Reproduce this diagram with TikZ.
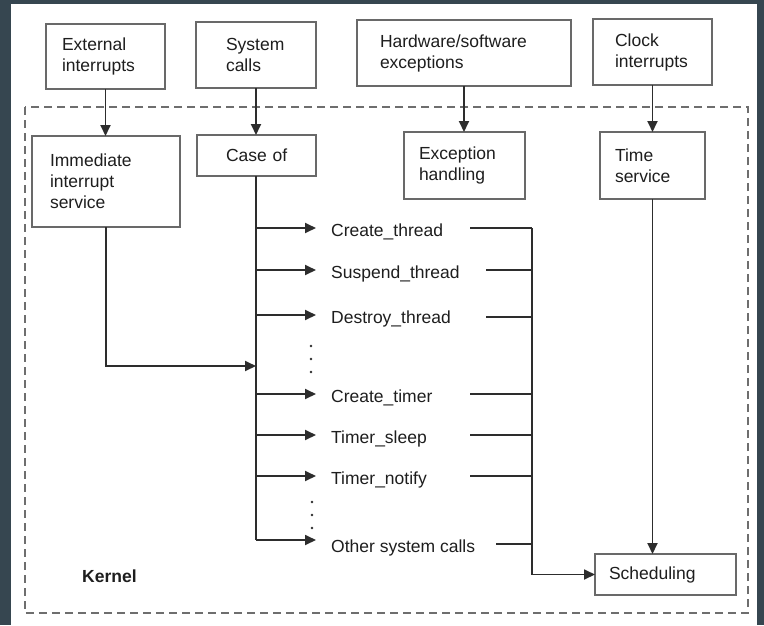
\documentclass[tikz,border=0pt]{standalone}
\usepackage{fontspec}
\setmainfont{Liberation Sans}
\usetikzlibrary{arrows.meta}
\definecolor{bgdark}{RGB}{54,70,80}
\definecolor{boxline}{RGB}{105,105,105}
\definecolor{arrline}{RGB}{45,45,45}
\definecolor{txt}{RGB}{30,30,30}
\definecolor{dashline}{RGB}{110,110,110}
\begin{document}
\begin{tikzpicture}[x=1pt,y=-1pt,
  font=\fontsize{17.5}{21}\selectfont, text=txt,
  box/.style={draw=boxline, line width=1.6pt, align=left, inner ysep=0pt, outer sep=0pt},
  lab/.style={anchor=base west, inner xsep=15pt, inner ysep=0pt, text height=16pt, text depth=0pt},
  arr/.style={draw=arrline, line width=1.8pt, -{Triangle[length=11pt,width=10pt]}},
  ln/.style={draw=arrline, line width=1.6pt},
  dot/.style={fill=arrline}]
\useasboundingbox (0,0) rectangle (764,625);
\fill[bgdark] (0,0) rectangle (764,625);
\fill[white] (11,4) rectangle (757,625);
% kernel frame
\draw[dashline, line width=1.3pt, dash pattern=on 8pt off 5pt] (25,107) rectangle (748,613);
% top boxes
\node[box, minimum width=119pt, minimum height=65pt, text width=87pt, inner xsep=16pt] (ext) at (105.5,56.5) {External\\interrupts};
\node[box, minimum width=120pt, minimum height=66pt, text width=60pt, inner xsep=30pt] (sys) at (256,55) {System\\calls};
\node[box, minimum width=214pt, minimum height=66pt, text width=168pt, inner xsep=23pt] (hw) at (464,53) {Hardware/software\\exceptions};
\node[box, minimum width=119pt, minimum height=66pt, text width=75pt, inner xsep=22pt] (clk) at (652.5,52) {Clock\\interrupts};
% kernel boxes
\node[box, minimum width=148pt, minimum height=91pt, text width=112pt, inner xsep=18pt] (imm) at (106,181.5) {Immediate\\interrupt\\service};
\node[box, minimum width=119pt, minimum height=41pt, text width=61pt, inner xsep=29pt] (case) at (256.5,155.5) {Case~of};
\node[box, minimum width=121pt, minimum height=67pt, text width=91pt, inner xsep=15pt] (exc) at (464.5,165.5) {Exception\\handling};
\node[box, minimum width=105pt, minimum height=67pt, text width=75pt, inner xsep=15pt] (time) at (652.5,165.5) {Time\\service};
\node[box, minimum width=141pt, minimum height=41pt, text width=113pt, inner xsep=14pt] (sched) at (665.5,574.5) {Scheduling};
% arrows into kernel
\draw[arr] (ext.south) -- (ext.south |- imm.north);
\draw[arr] (sys.south) -- (sys.south |- case.north);
\draw[arr] (hw.south) -- (hw.south |- exc.north);
\draw[arr] (clk.south) -- (clk.south |- time.north);
\draw[arr] (time.south) -- (time.south |- sched.north);
% trunk coordinates
\coordinate (ttop) at (256,176);
\coordinate (t1) at (256,228);
\coordinate (t2) at (256,270);
\coordinate (t3) at (256,315);
\coordinate (tm) at (256,366);
\coordinate (t4) at (256,394);
\coordinate (t5) at (256,435);
\coordinate (t6) at (256,476);
\coordinate (t7) at (256,540);
\draw[ln] (ttop) -- (t7);
% labels
\node[lab] (l1) at (316,236) {Create\_thread};
\node[lab] (l2) at (316,278) {Suspend\_thread};
\node[lab] (l3) at (316,323) {Destroy\_thread};
\node[lab] (l4) at (316,402) {Create\_timer};
\node[lab] (l5) at (316,443) {Timer\_sleep};
\node[lab] (l6) at (316,484) {Timer\_notify};
\node[lab] (l7) at (316,552) {Other system calls};
\foreach \i in {1,...,7} \draw[arr] (t\i) -- (t\i -| l\i.west);
% immediate service into trunk
\draw[arr] (imm.south) |- (tm);
% dots
\foreach \yy in {346,359,372} \fill[dot] (311,\yy) circle (1.3pt);
\foreach \yy in {502,515,528} \fill[dot] (312,\yy) circle (1.3pt);
% collector
\coordinate (s1) at (470,228); \coordinate (c1) at (532,228);
\coordinate (s2) at (486,270); \coordinate (c2) at (532,270);
\coordinate (s3) at (486,317); \coordinate (c3) at (532,317);
\coordinate (s4) at (470,394); \coordinate (c4) at (532,394);
\coordinate (s5) at (470,435); \coordinate (c5) at (532,435);
\coordinate (s6) at (470,476); \coordinate (c6) at (532,476);
\coordinate (s7) at (496,544); \coordinate (c7) at (532,544);
\foreach \i in {1,...,7} \draw[ln] (s\i) -- (c\i);
\draw[arr] (c1) |- (sched.west);
% kernel label
\node[anchor=base west, inner sep=0pt, font=\fontsize{17.5}{21}\selectfont\bfseries] (kern) at (82,582) {Kernel};
\end{tikzpicture}
\end{document}
